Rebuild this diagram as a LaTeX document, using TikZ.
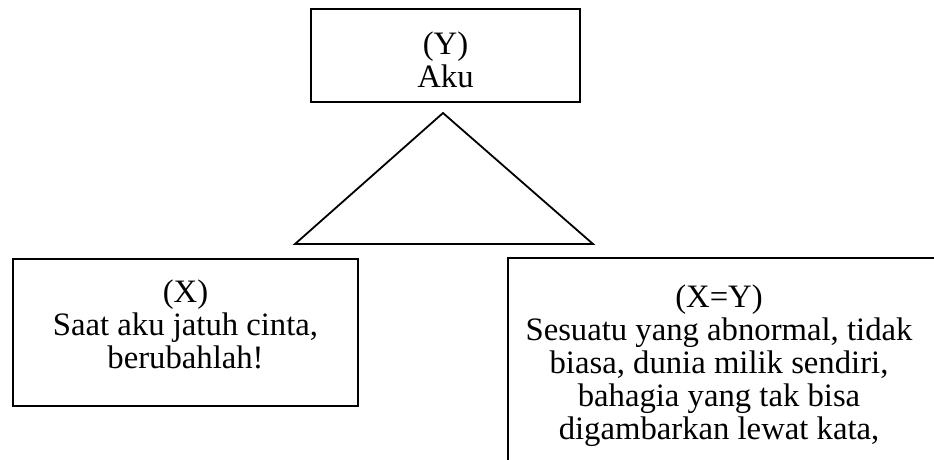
\documentclass[tikz,border=0pt]{standalone}
\usepackage{fontspec}
\setmainfont{Liberation Serif}
\begin{document}
\begin{tikzpicture}[x=1pt,y=-1pt,
  frame/.style={draw=black, line width=1.8pt, rectangle, inner sep=0pt},
  label/.style={align=center, inner sep=0pt, anchor=base,
    font=\fontsize{32.7}{33}\selectfont}]
% page area (content beyond it is cut off)
\clip (0,0) rectangle (934,459);
\fill[white] (0,0) rectangle (934,459);

% boxes
\node[frame, minimum width=269pt, minimum height=93pt] (ybox) at (445.5,55.5) {};
\node[frame, minimum width=345pt, minimum height=147pt] (xbox) at (185.5,332.5) {};
\node[frame, minimum width=433pt, minimum height=260pt, anchor=north west] (xybox) at (507,257) {};

% texts (anchored at the baseline of their last line)
\node[label] (ytext) at (445.5,87) {(Y)\\Aku};
\node[label] (xtext) at (185.5,368) {(X)\\Saat aku jatuh cinta,\\berubahlah!};
\node[label] (xytext) at (719,439) {(X=Y)\\Sesuatu yang abnormal, tidak\\biasa, dunia milik sendiri,\\bahagia yang tak bisa\\digambarkan lewat kata,};

% triangle between the boxes
\coordinate (apex) at (443,113);
\coordinate (bl) at (295,244);
\coordinate (br) at (593,244);
\draw[line width=1.8pt, line join=miter] (apex) -- (bl) -- (br) -- cycle;
\end{tikzpicture}
\end{document}
